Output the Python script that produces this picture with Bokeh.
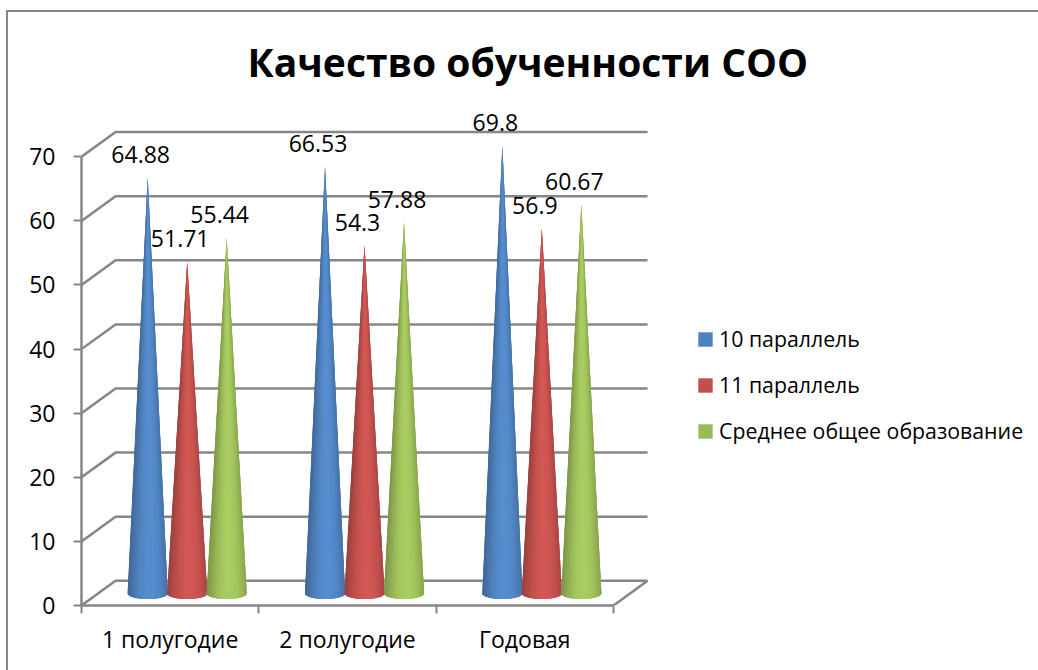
import math
from bokeh.plotting import figure
from bokeh.embed import file_html
from bokeh.resources import INLINE
from bokeh.core.properties import value
from bokeh.models import Range1d, FixedTicker, Legend, LegendItem, ColumnDataSource

TITLE = "Качество обученности СОО"
categories = ["1 полугодие", "2 полугодие", "Годовая"]
series_names = ["10 параллель", "11 параллель", "Среднее общее образование"]
series_10 = [64.88, 66.53, 69.8]
series_11 = [51.71, 54.3, 56.9]
series_all = [55.44, 57.88, 60.67]
y_ticks = [0, 10, 20, 30, 40, 50, 60, 70]
colors = ["#4F81BD", "#C0504D", "#9BBB59"]
all_series = [series_10, series_11, series_all]

FONT = "Open Sans"
GRAY = "#868686"
DX, DY = 0.192, 3.85        # depth of the back wall in data units
CONE_DX, CONE_DY = 0.096, 1.9   # cone base centre offset in the floor
SERIES_STEP = 0.2227
R, RY = 0.113, 0.9
PX_PER_GROUP = 177.33

p = figure(width=1038, height=670, output_backend="svg", toolbar_location=None,
           x_range=Range1d(0, (1038 - 81) / PX_PER_GROUP), y_range=Range1d(0, 78),
           min_border_left=81, min_border_right=0, min_border_top=105, min_border_bottom=65,
           outline_line_color=None, border_fill_color=None, background_fill_color=None)
p.styles = {
    "background": "linear-gradient(#868686,#868686) 6px 10px / 2px 100% no-repeat,"
                  "linear-gradient(#868686,#868686) 6px 10px / 100% 2px no-repeat,#ffffff",
}
p.grid.visible = False

# title
p.title.text = TITLE
p.title.text_font = FONT
p.title.text_font_style = "bold"
p.title.text_font_size = "39px"
p.title.text_color = "#000000"
p.title.align = "left"
p.title.offset = 166
p.title.standoff = 36

# axes
ya = p.yaxis[0]
ya.ticker = FixedTicker(ticks=y_ticks)
ya.bounds = (0, 70)
ya.axis_line_color = GRAY
ya.axis_line_width = 2.5
ya.major_tick_line_color = GRAY
ya.major_tick_line_width = 2
ya.major_tick_in = 0
ya.major_tick_out = 8
ya.minor_tick_line_color = None
ya.major_label_standoff = 18
ya.major_label_text_font = FONT
ya.major_label_text_font_size = "23px"
ya.major_label_text_color = "#000000"

xa = p.xaxis[0]
xa.ticker = FixedTicker(ticks=[0.5, 1.5, 2.5], minor_ticks=[0, 1, 2, 3])
xa.bounds = (0, 3)
xa.major_label_overrides = {i + 0.5: c for i, c in enumerate(categories)}
xa.axis_line_color = GRAY
xa.axis_line_width = 2.5
xa.major_tick_line_color = None
xa.minor_tick_line_color = GRAY
xa.minor_tick_line_width = 2
xa.minor_tick_in = 0
xa.minor_tick_out = 8
xa.major_label_standoff = 9
xa.major_label_text_font = FONT
xa.major_label_text_font_size = "23px"
xa.major_label_text_color = "#000000"

# walls
wall_x = [[0, DX, 3 + DX] for _ in y_ticks] + [[3, 3 + DX]]
wall_y = [[v, v + DY, v + DY] for v in y_ticks] + [[0, DY]]
p.multi_line(wall_x, wall_y, line_color=GRAY, line_width=2.5)


def shade(hex_color, f):
    r, g, b = (int(hex_color[i:i + 2], 16) for i in (1, 3, 5))
    return "#%02x%02x%02x" % tuple(min(255, int(c * f)) for c in (r, g, b))


def factor(t):
    # horizontal light across a cone, t in [-1, 1]
    if t < 0.1:
        return 0.80 + (1.10 - 0.80) * math.sin((t + 1) / 1.1 * math.pi / 2)
    return 1.10 - 0.22 * ((t - 0.1) / 0.9) ** 2


legend_items = []
label_x, label_y, label_text = [], [], []
N = 18
for si, (vals, col) in enumerate(zip(all_series, colors)):
    bx, by, sx, sy, sc = [], [], [], [], []
    for gi, v in enumerate(vals):
        cx = gi + 0.5 + (si - 1) * SERIES_STEP + CONE_DX
        arc = [-math.pi / 2 + math.pi * k / N for k in range(N + 1)]
        ax = [cx + R * math.sin(a) for a in arc]
        ay = [CONE_DY - RY * math.cos(a) for a in arc]
        tip_y = v + CONE_DY
        bx.append(ax + [cx])
        by.append(ay + [tip_y])
        for k in range(N):
            # each strip overlaps the next one, so that no seams show
            end = min(k + 2, N)
            sx.append(ax[k:end + 1] + [cx])
            sy.append(ay[k:end + 1] + [tip_y])
            t = (math.sin(arc[k]) + math.sin(arc[k + 1])) / 2
            sc.append(shade(col, factor(t)))
        label_x.append(cx)
        label_y.append(tip_y)
        label_text.append(f"{v:g}")
    base = p.patches(bx, by, fill_color=col, line_color=None)
    p.patches(xs="xs", ys="ys", fill_color="c", line_color=None,
              source=ColumnDataSource(dict(xs=sx, ys=sy, c=sc)))
    legend_items.append(LegendItem(label=series_names[si], renderers=[base]))

p.text(label_x, label_y, text=label_text, text_font=value(FONT), text_font_size="23px",
       text_color="#000000", text_align="center", text_baseline="alphabetic",
       x_offset=-7, y_offset=-23)

legend = Legend(items=legend_items, location=(615, 160), orientation="vertical",
                border_line_color=None, background_fill_alpha=0, padding=0, margin=0,
                glyph_width=18, glyph_height=18, label_standoff=5, label_height=20, spacing=17,
                label_text_font=FONT, label_text_font_size="21.3px", label_text_color="#000000",
                label_text_baseline="middle")
p.add_layout(legend, "center")

open("out.html", "w").write(file_html(p, INLINE))
